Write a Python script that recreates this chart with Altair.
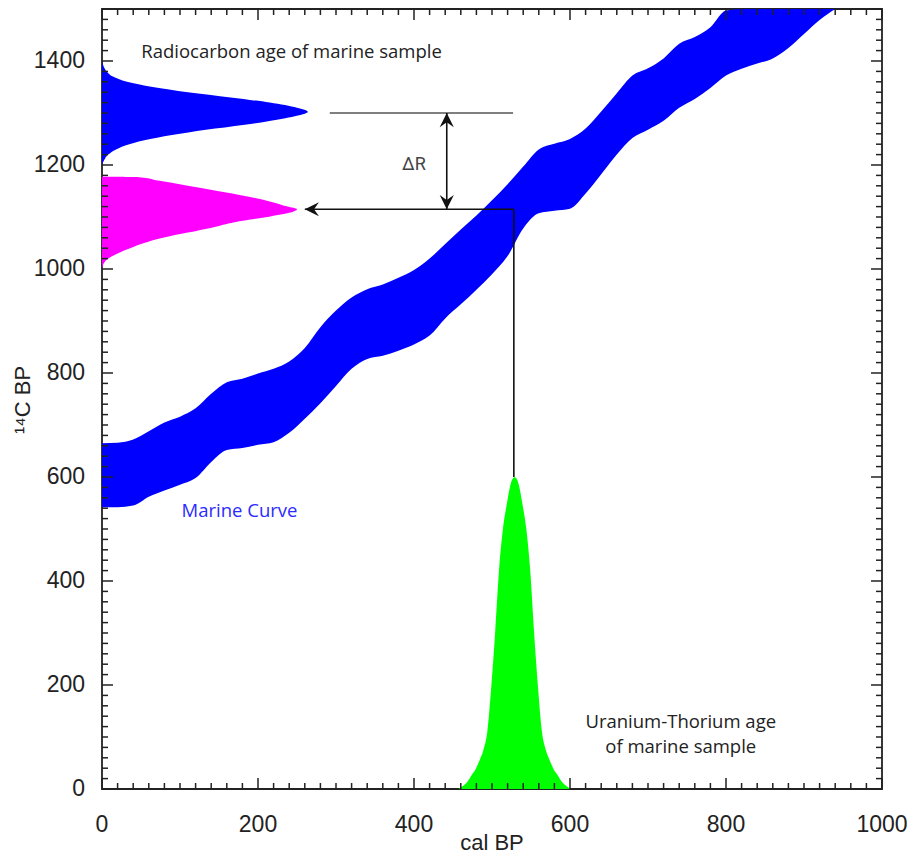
import altair as alt
import pandas as pd

# ---- Marine calibration band: 14C BP envelope against cal BP ----
curve_cal = [0, 20, 40, 60, 80, 100, 120, 140, 160, 180, 200, 220, 240, 260, 280, 300,
             320, 340, 360, 380, 400, 420, 440, 460, 480, 500, 520, 540, 560, 580, 600,
             620, 640, 660, 680, 700, 720, 740, 760, 780, 800, 820, 840, 860, 880, 900,
             920, 940]
curve_upper = [665, 666, 672, 688, 705, 716, 732, 760, 782, 789, 799, 808, 822, 848, 888, 920,
               945, 961, 970, 983, 998, 1020, 1048, 1076, 1103, 1132, 1163, 1197, 1230, 1241, 1250,
               1270, 1303, 1338, 1372, 1386, 1405, 1433, 1446, 1465, 1497, 1500, 1500, 1500, 1500, 1500,
               1500, 1500]
curve_lower = [542, 542, 545, 562, 574, 585, 598, 629, 652, 656, 662, 667, 685, 712, 742, 775,
               808, 827, 833, 843, 855, 872, 905, 932, 960, 990, 1025, 1078, 1107, 1112, 1116,
               1145, 1182, 1220, 1252, 1268, 1285, 1310, 1327, 1348, 1372, 1385, 1395, 1405, 1425, 1452,
               1479, 1500]

# ---- Radiocarbon age of the marine sample (14C BP, drawn sideways from the y axis) ----
rc_age = [1200, 1210, 1220, 1230, 1240, 1250, 1260, 1270, 1280, 1290, 1300, 1302,
          1310, 1320, 1330, 1340, 1350, 1360, 1370, 1380, 1390, 1400]
rc_height = [0, 3, 8, 18, 35, 62, 100, 145, 195, 235, 262, 264,
             250, 215, 165, 110, 65, 32, 14, 6, 2, 0]

mg_age = [1000, 1010, 1020, 1030, 1040, 1050, 1060, 1070, 1080, 1090, 1100, 1108, 1115,
          1120, 1130, 1140, 1150, 1160, 1170, 1177, 1177.5]
mg_height = [0, 2, 8, 20, 36, 54, 78, 110, 142, 170, 212, 240, 250,
             238, 215, 185, 148, 110, 72, 45, 0]

# ---- Uranium-Thorium age of the marine sample (cal BP) ----
ut_cal = [457, 464, 469, 474, 479, 484, 489, 494, 499, 504, 509, 514, 519, 524, 529,
          534, 539, 544, 549, 554, 559, 564, 569, 574, 579, 584, 589, 594, 601]
ut_height = [0, 7, 15, 27, 38, 55, 75, 110, 195, 300, 420, 500, 548, 587, 600,
             587, 548, 500, 420, 300, 195, 110, 75, 55, 38, 27, 15, 7, 0]

# ---- Connector lines ----
seg_x = [292, 528, 260, 442]
seg_x2 = [527, 528, 528, 442]
seg_y = [1300, 600, 1115, 1115]
seg_y2 = [1300, 1115, 1115, 1300]
seg_color = ["#555555", "#111111", "#111111", "#111111"]

# ---- Arrow heads ----
arrow_x = [260, 442, 442]
arrow_y = [1115, 1300, 1115]
arrow_dir = ["left", "up", "down"]

# ---- Axis ticks and titles ----
x_major = [0, 200, 400, 600, 800, 1000]
y_major = [0, 200, 400, 600, 800, 1000, 1200, 1400]
x_minor = [v for v in range(0, 1001, 20) if v % 200]
y_minor = [v for v in range(0, 1501, 20) if v % 200]
x_title = "cal BP"
y_title = "¹⁴C BP"

W, H = 780, 780
INK = "#222222"
AXIS_FONT = "Liberation Sans"
NOTE_FONT = "Open Sans"

xs = alt.Scale(domain=[0, 1000], nice=False, zero=False)
ys = alt.Scale(domain=[0, 1500], nice=False, zero=False)

# bare axes on the base layer (no labels, ticks or lines of their own)
BARE = dict(grid=False, domain=False, ticks=False, labels=False, title=None)


def X(field):
    return alt.X(field, scale=xs, axis=None)


def Y(field):
    return alt.Y(field, scale=ys, axis=None)


band_df = pd.DataFrame({"cal": curve_cal, "hi": curve_upper, "lo": curve_lower})
band = alt.Chart(band_df).mark_area(
    color="#0000ff", interpolate="monotone", clip=True
).encode(
    x=alt.X("cal:Q", scale=xs, axis=alt.Axis(**BARE)),
    y=alt.Y("lo:Q", scale=ys, axis=alt.Axis(**BARE)),
    y2="hi:Q",
)

rc = alt.Chart(pd.DataFrame({"age": rc_age, "h": rc_height})).mark_area(
    color="#0000ff", orient="horizontal", interpolate="monotone"
).encode(x=X("h:Q"), y=Y("age:Q"))

mg = alt.Chart(pd.DataFrame({"age": mg_age, "h": mg_height})).mark_area(
    color="#ff00ff", orient="horizontal", interpolate="monotone"
).encode(x=X("h:Q"), y=Y("age:Q"))

ut = alt.Chart(pd.DataFrame({"cal": ut_cal, "h": ut_height})).mark_area(
    color="#00ff00", interpolate="monotone"
).encode(x=X("cal:Q"), y=Y("h:Q"))

segs = alt.Chart(pd.DataFrame({
    "x": seg_x, "x2": seg_x2, "y": seg_y, "y2": seg_y2, "c": seg_color
})).mark_rule(strokeWidth=1.6).encode(
    x=X("x:Q"), x2="x2:Q", y=Y("y:Q"), y2="y2:Q",
    color=alt.Color("c:N", scale=None, legend=None),
)

arrow_paths = {
    "left": "M0,0 L2,-1 L1.3,0 L2,1 Z",
    "up": "M0,0 L-1,2 L0,1.3 L1,2 Z",
    "down": "M0,0 L-1,-2 L0,-1.3 L1,-2 Z",
}
arrows = alt.Chart(pd.DataFrame({"x": arrow_x, "y": arrow_y, "d": arrow_dir})).mark_point(
    filled=True, size=200, opacity=1, color="#111111"
).encode(
    x=X("x:Q"), y=Y("y:Q"),
    shape=alt.Shape("d:N", scale=alt.Scale(domain=list(arrow_paths),
                                           range=list(arrow_paths.values())), legend=None),
)


def note(x, y, text, color=INK, align="center", size=18.5, font=NOTE_FONT):
    return alt.Chart(pd.DataFrame({"x": [x], "y": [y], "t": [text]})).mark_text(
        font=font, fontSize=size, color=color, align=align, baseline="alphabetic"
    ).encode(x=X("x:Q"), y=Y("y:Q"), text="t:N")


notes = [
    note(243, 1406, "Radiocarbon age of marine sample"),
    note(102, 523, "Marine Curve", color="#2b2bff", align="left"),
    note(742, 117, "Uranium-Thorium age"),
    note(742, 69, "of marine sample"),
    note(400, 1190, "ΔR", color="#444444", size=18, font="Roboto"),
]


# Inward frame ticks on all four sides (major 11 px, minor 6 px)
def ticks(values, side, length):
    base = alt.Chart(pd.DataFrame({"p": values})).mark_rule(color=INK, strokeWidth=1.5)
    if side == "bottom":
        return base.encode(x=X("p:Q"), y=alt.value(H), y2=alt.value(H - length))
    if side == "top":
        return base.encode(x=X("p:Q"), y=alt.value(0), y2=alt.value(length))
    if side == "left":
        return base.encode(y=Y("p:Q"), x=alt.value(0), x2=alt.value(length))
    return base.encode(y=Y("p:Q"), x=alt.value(W), x2=alt.value(W - length))


tick_layers = []
for side in ("bottom", "top"):
    tick_layers += [ticks(x_major, side, 11), ticks(x_minor, side, 6)]
for side in ("left", "right"):
    tick_layers += [ticks(y_major, side, 11), ticks(y_minor, side, 6)]

# Tick labels placed through the scales, just outside the frame
x_labels = alt.Chart(pd.DataFrame({"v": x_major})).mark_text(
    font=AXIS_FONT, fontSize=23, color=INK, align="center", baseline="alphabetic"
).encode(x=X("v:Q"), y=alt.value(H + 43), text=alt.Text("v:Q", format="d"))

y_labels = alt.Chart(pd.DataFrame({"v": y_major})).mark_text(
    font=AXIS_FONT, fontSize=23, color=INK, align="right", baseline="middle"
).encode(y=Y("v:Q"), x=alt.value(-17), text=alt.Text("v:Q", format="d"))

x_name = alt.Chart(pd.DataFrame({"t": [x_title]})).mark_text(
    font=AXIS_FONT, fontSize=22, color=INK, align="center", baseline="alphabetic"
).encode(x=alt.value(W / 2), y=alt.value(H + 61), text="t:N")

y_name = alt.Chart(pd.DataFrame({"t": [y_title]})).mark_text(
    font=AXIS_FONT, fontSize=22, color=INK, align="center", baseline="alphabetic", angle=270
).encode(x=alt.value(-72), y=alt.value(391), text="t:N")

chart = alt.layer(
    band, rc, mg, ut, segs, arrows, *notes, *tick_layers, x_labels, y_labels, x_name, y_name
).properties(
    width=W, height=H,
    autosize=alt.AutoSizeParams(type="none"),
    padding={"left": 102, "top": 9, "right": 35, "bottom": 74},
    background="white",
).configure_view(stroke=INK, strokeWidth=1.8)

chart.save("out.html", embed_options={"renderer": "svg", "actions": False})
